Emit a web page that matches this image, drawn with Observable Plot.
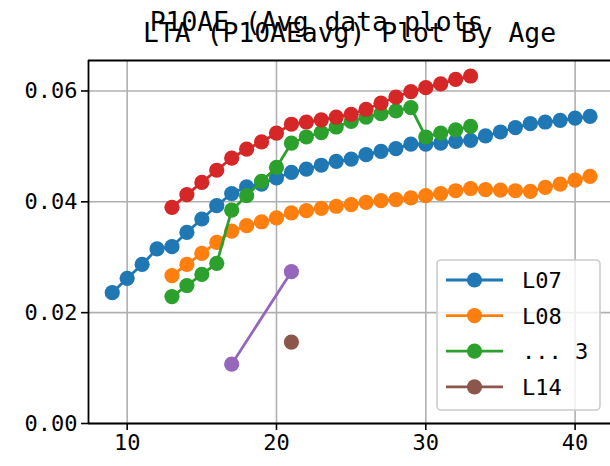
<!DOCTYPE html>
<html>
<head>
<meta charset="utf-8">
<script src="https://cdn.jsdelivr.net/npm/d3@7"></script>
<script src="https://cdn.jsdelivr.net/npm/@observablehq/plot@0.6"></script>
<style>
  html, body { margin: 0; padding: 0; background: #fff; }
  #chart { width: 610px; height: 466px; }
</style>
</head>
<body>
<div id="chart"></div>
<script>
// ---- data ----
const titleMain = "LTA (P10AEavg) Plot By Age";
const titleOver = "P10AE (Avg data plots";

const agesL07 = [9,10,11,12,13,14,15,16,17,18,19,20,21,22,23,24,25,26,27,28,29,30,31,32,33,34,35,36,37,38,39,40,41];
const valsL07 = [0.0236,0.0262,0.0287,0.0315,0.0319,0.0345,0.0369,0.0393,0.0415,0.0427,0.0432,0.0443,0.0453,0.0459,0.0466,0.0473,0.0477,0.0485,0.0491,0.0496,0.0504,0.0504,0.0506,0.0509,0.0511,0.0519,0.0526,0.0534,0.0541,0.0544,0.0547,0.0551,0.0554];

const agesL08 = [13,14,15,16,17,18,19,20,21,22,23,24,25,26,27,28,29,30,31,32,33,34,35,36,37,38,39,40,41];
const valsL08 = [0.0267,0.0287,0.0307,0.0327,0.0347,0.0357,0.0364,0.0371,0.0380,0.0384,0.0388,0.0392,0.0395,0.0399,0.0402,0.0404,0.0407,0.0411,0.0415,0.0420,0.0424,0.0422,0.0421,0.0420,0.0419,0.0426,0.0432,0.0439,0.0446];

const agesS3 = [13,14,15,16,17,18,19,20,21,22,23,24,25,26,27,28,29,30,31,32,33];
const valsS3 = [0.0229,0.0249,0.0269,0.0289,0.0385,0.0411,0.0437,0.0462,0.0506,0.0517,0.0525,0.0535,0.0545,0.0553,0.0559,0.0564,0.0570,0.0517,0.0524,0.0530,0.0536];

const agesRed = [13,14,15,16,17,18,19,20,21,22,23,24,25,26,27,28,29,30,31,32,33];
const valsRed = [0.0390,0.0413,0.0435,0.0457,0.0479,0.0495,0.0508,0.0524,0.0540,0.0544,0.0548,0.0553,0.0558,0.0567,0.0578,0.0589,0.0599,0.0606,0.0613,0.0621,0.0627];

const agesPurple = [17,21];
const valsPurple = [0.0107,0.0274];

const agesL14 = [21];
const valsL14 = [0.0147];

const seriesNames  = ["L07","L08","... 3","_red","_purple","L14"];
const seriesColors = ["#1f77b4","#ff7f0e","#2ca02c","#d62728","#9467bd","#8c564b"];
const seriesAges   = [agesL07, agesL08, agesS3, agesRed, agesPurple, agesL14];
const seriesVals   = [valsL07, valsL08, valsS3, valsRed, valsPurple, valsL14];
const legendNames  = ["L07","L08","... 3","L14"];

const xTicks = [10,20,30,40];
const yTicks = [0,0.02,0.04,0.06];
const xDomain = [7.41, 42.37];
const yDomain = [0, 0.0655];

// ---- build ----
const FONT = "'DejaVu Sans Mono', 'Liberation Mono', monospace";
const series = seriesNames.map((name, i) => ({
  name, color: seriesColors[i],
  rows: seriesAges[i].map((a, j) => ({age: a, v: seriesVals[i][j]}))
}));

const marks = [
  Plot.gridX(xTicks, {stroke: "#b0b0b0", strokeOpacity: 1, strokeWidth: 1.6}),
  Plot.gridY(yTicks, {stroke: "#b0b0b0", strokeOpacity: 1, strokeWidth: 1.6}),
];
for (const s of series) {
  if (s.rows.length > 1) {
    marks.push(Plot.line(s.rows, {x: "age", y: "v", stroke: s.color, strokeWidth: 2.8}));
  }
  marks.push(Plot.dot(s.rows, {x: "age", y: "v", fill: s.color, r: 7.6, stroke: "none"}));
}
marks.push(
  Plot.ruleY([yDomain[0]], {stroke: "#000", strokeWidth: 1.8}),
  Plot.ruleY([yDomain[1]], {stroke: "#000", strokeWidth: 1.8}),
  Plot.ruleX([xDomain[0]], {stroke: "#000", strokeWidth: 1.8}),
  Plot.axisX({ticks: xTicks, tickSize: 7, tickPadding: 4, strokeWidth: 1.6, fontSize: 22, tickFormat: d => String(d)}),
  Plot.axisY({ticks: yTicks, tickSize: 7, tickPadding: 4, strokeWidth: 1.6, fontSize: 22, tickFormat: d3.format(".2f")}),
  Plot.text([titleMain], {frameAnchor: "top", dy: -19, lineAnchor: "bottom", fontSize: 26.4, fill: "#000"}),
  Plot.text([titleOver], {frameAnchor: "top", dy: -30, dx: -33, lineAnchor: "bottom", fontSize: 26.4, fill: "#000"})
);

const chart = Plot.plot({
  width: 610,
  height: 466,
  marginLeft: 88,
  marginRight: 0,
  marginTop: 60,
  marginBottom: 43,
  x: {domain: xDomain, label: null},
  y: {domain: yDomain, label: null},
  style: {fontFamily: FONT, fontSize: "22px", color: "#000", background: "#fff", overflow: "visible"},
  marks
});
document.getElementById("chart").appendChild(chart);

// ---- legend ----
const svg = d3.select(chart);
const lg = svg.append("g").attr("font-family", FONT).attr("font-size", 22).attr("text-anchor", "start");
lg.append("rect")
  .attr("x", 437).attr("y", 260).attr("width", 163).attr("height", 150)
  .attr("rx", 4).attr("fill", "#fff").attr("fill-opacity", 0.8)
  .attr("stroke", "#cccccc").attr("stroke-width", 1.6);
legendNames.forEach((name, i) => {
  const s = series.find(d => d.name === name);
  const yy = 280 + i * 35.6;
  lg.append("line").attr("x1", 446).attr("x2", 503).attr("y1", yy).attr("y2", yy)
    .attr("stroke", s.color).attr("stroke-width", 2.8);
  lg.append("circle").attr("cx", 474.5).attr("cy", yy).attr("r", 7.6).attr("fill", s.color);
  lg.append("text").attr("x", 522).attr("y", yy + 8).attr("text-anchor", "start").attr("fill", "#000").text(name);
});
</script>
</body>
</html>
